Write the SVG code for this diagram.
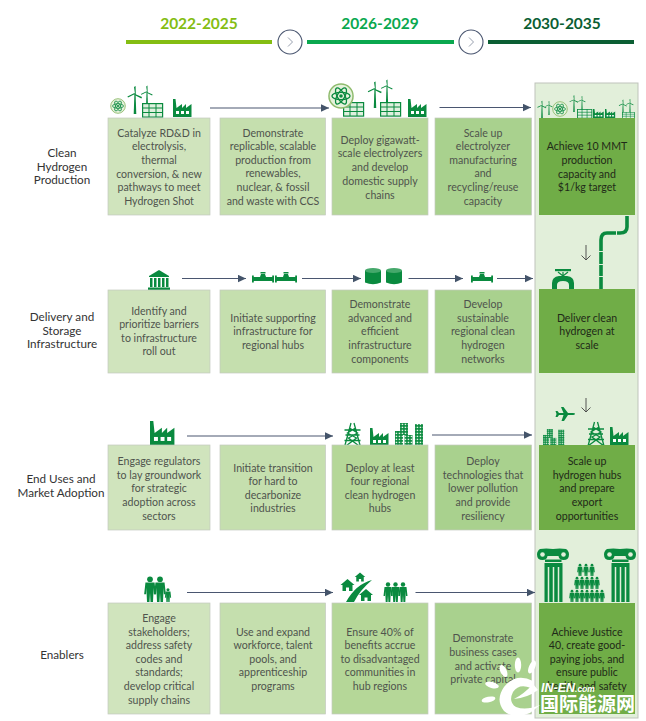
<svg xmlns="http://www.w3.org/2000/svg" xmlns:xlink="http://www.w3.org/1999/xlink" width="646" height="721" viewBox="0 0 646 721">
<style>
text{font-family:"Lato","Liberation Sans",sans-serif;font-size:10.6px;fill:#4f544d;text-anchor:middle}
.lab{fill:#333;font-size:11.700px}
.dk{fill:#1f2a18}
.yr{font-size:15.5px;font-weight:700}
.c1{fill:#d0e4bd}.c2{fill:#c5dfae}.c3{fill:#b5d798}.c4{fill:#a9d18e}.c5{fill:#70ad47}
.bx{stroke:#c4c9bf;stroke-width:.7}
.conn{stroke:#4a5670;stroke-width:1.1;fill:none;marker-end:url(#tri)}
.g{fill:#0a8a3f}
.ln{fill:none;stroke:#0a8a3f}
.w{fill:#fff}
</style>
<defs>
<marker id="tri" markerUnits="userSpaceOnUse" markerWidth="8" markerHeight="8" refX="8" refY="4" orient="auto"><path d="M0 0.3L8 4L0 7.7Z" fill="#44546a"/></marker>
<pattern id="win" width="3" height="3" patternUnits="userSpaceOnUse"><rect width="3" height="3" fill="#0a8a3f"/><rect x=".7" y=".7" width="1.5" height="1.4" fill="#e6f3e6"/></pattern>
<g id="turb"><path class="g" d="M-1.3 0L-.6-20H.6L1.3 0Z"/><path class="g" d="M0-20L-1-27L.6-28L.8-20ZM0-20L7-17L6.4-15.6L-.5-19ZM0-20L-7-16.5L-7.6-17.6L-.5-21Z"/></g>
<g id="solar"><rect x=".6" y=".6" width="20" height="13.5" fill="#dff0df" stroke="#0a8a3f" stroke-width="1.2"/><path class="ln" stroke-width="1" d="M0 5H21M0 9.5H21M7 0V14M14 0V14"/></g>
<g id="fact"><path class="g" d="M0 18V0H2.5L3.5 9L9 5V9L13 5V9L18.500 5V18Z"/><rect class="w" x="3" y="12" width="3" height="3"/><rect class="w" x="8" y="12" width="3" height="3"/><rect class="w" x="13" y="12" width="3" height="3"/></g>
<g id="atom"><circle r="7.300" fill="#e6f2dc" stroke="#8fbb6d" stroke-width=".9"/><g class="ln" stroke-width=".8"><ellipse rx="5.500" ry="2.200"/><ellipse rx="5.500" ry="2.200" transform="rotate(60)"/><ellipse rx="5.500" ry="2.200" transform="rotate(120)"/></g><circle r="1.100" class="g"/></g>
<g id="valve"><rect class="g" x="0" y="-3.500" width="1.800" height="7"/><rect class="g" x="20.200" y="-3.500" width="1.800" height="7"/><rect class="g" x="1" y="-2" width="20" height="4"/><path class="g" d="M8-2L9-5H13L14-2Z"/><rect class="g" x="8.500" y="-7" width="5" height="1.500"/></g>
<g id="tank"><path class="g" d="M0 2.500V14.500Q8 18 16 14.500V2.500Z"/><ellipse cx="8" cy="2.500" rx="8" ry="2.500" fill="#45a86b"/></g>
<g id="tower"><path class="ln" stroke-width="1.300" d="M-1.500 0L-8 24M1.500 0L8 24M-8 24L4 15L-5 10L3 5M8 24L-4 15L5 10L-3 5M-8 7H8M-7 12H7M-8 17.500H8"/></g>
<g id="bldgs"><rect x="0" y="8" width="8" height="14" fill="url(#win)"/><rect x="5" y="0" width="8" height="12" fill="url(#win)"/><rect x="9.500" y="12" width="8" height="10" fill="url(#win)"/><rect x="20" y="1" width="8" height="21" fill="url(#win)"/></g>
<g id="p"><circle cy="-17.500" r="2.200" class="g"/><path class="g" d="M-3.500-15H3.500L4.500-6H3L2.800-11L2.300 0H.4L0-7L-.4 0H-2.300L-2.800-11L-3-6H-4.500Z"/></g>
<g id="col"><path class="g" d="M2 1Q8 0 15 1Q22 0 28 1Q31 3 31 6.500Q31 12 25.500 12Q21 12 20.500 8H9.500Q9 12 4.500 12Q-1 12 -1 6.500Q-1 3 2 1Z"/><circle cx="4.500" cy="6.500" r="2.300" fill="#e2efda"/><circle cx="25.500" cy="6.500" r="2.300" fill="#e2efda"/><rect class="g" x="7" y="11.500" width="16.500" height="2.500"/><rect class="g" x="6.500" y="15" width="18" height="39"/><path d="M10.500 19V54M15.500 19V54M20.500 19V54" stroke="#e2efda" stroke-width="1.500"/></g>
<g id="house"><path class="g" d="M-7 0L0-6L7 0H5V6H1.500V2.500H-1.500V6H-5V0Z"/></g>
</defs>

<g id="panel"><rect x="535" y="83" width="103" height="635" fill="#e2efda" stroke="#bfc4bb" stroke-width="1"/></g>

<g id="timeline">
<rect x="126" y="40" width="146" height="4" fill="#84bd12"/>
<rect x="307" y="40" width="147" height="4" fill="#0aa84f"/>
<rect x="488" y="40" width="146" height="4" fill="#0b5e33"/>
<g fill="#fff" stroke="#4a5670" stroke-width="1.100"><circle cx="290" cy="42" r="12"/><circle cx="471" cy="42" r="12"/></g>
<path d="M288 37.500L292.500 42L288 46.500M469 37.500L473.500 42L469 46.500" fill="none" stroke="#8a93a3" stroke-width=".9"/>
<text class="yr" x="199" y="29" style="fill:#84bd12">2022-2025</text>
<text class="yr" x="380" y="29" style="fill:#0aa84f">2026-2029</text>
<text class="yr" x="562" y="29" style="fill:#0b5e33">2030-2035</text>
</g>

<g id="row-labels">
<text class="lab" x="62" y="157">Clean</text><text class="lab" x="62" y="170.500">Hydrogen</text><text class="lab" x="62" y="184">Production</text>
<text class="lab" x="62" y="321">Delivery and</text><text class="lab" x="62" y="334.500">Storage</text><text class="lab" x="62" y="348">Infrastructure</text>
<text class="lab" x="61" y="483">End Uses and</text><text class="lab" x="61" y="497">Market Adoption</text>
<text class="lab" x="62" y="659">Enablers</text>
</g>

<g id="connectors">
<path class="conn" d="M210 108H329"/><path class="conn" d="M439.500 107.500H531"/>
<path class="conn" d="M182 278.500H246"/><path class="conn" d="M302 278.500H361"/><path class="conn" d="M408.500 278.500H463"/><path class="conn" d="M497 278.500H533"/>
<path class="conn" d="M187 436H333"/><path class="conn" d="M432 435H532"/>
<path class="conn" d="M187 592.500H333"/><path class="conn" d="M415.500 592.500H535"/>
<path d="M586 245V260M581.500 255.500L586 260L590.500 255.500M586 398V412M581.500 407.500L586 412L590.500 407.500" fill="none" stroke="#444" stroke-width=".9"/>
</g>

<g id="icons-row1">
<use href="#atom" transform="translate(118 106)"/>
<use href="#turb" transform="translate(135 114)"/><use href="#turb" transform="translate(147 108) scale(.8)"/>
<use href="#solar" transform="translate(142 103)"/>
<use href="#fact" transform="translate(173 99)"/>
<use href="#solar" transform="translate(343 102)"/>
<use href="#atom" transform="translate(341 96) scale(1.650)"/>
<use href="#turb" transform="translate(375 108) scale(.95)"/><use href="#turb" transform="translate(387 102) scale(.8)"/>
<use href="#solar" transform="translate(380 102)"/>
<use href="#fact" transform="translate(408 99)"/>
<use href="#turb" transform="translate(542 118) scale(.62)"/><use href="#turb" transform="translate(549 115) scale(.5)"/>
<use href="#atom" transform="translate(560 109)"/>
<use href="#turb" transform="translate(574 112) scale(.6)"/><use href="#turb" transform="translate(582 110) scale(.5)"/>
<use href="#solar" transform="translate(577 109) scale(.72 .65)"/>
<use href="#fact" transform="translate(593 109) scale(.58 .5)"/><use href="#fact" transform="translate(605 109) scale(.55 .5)"/>
<use href="#turb" transform="translate(623 115) scale(.55)"/><use href="#turb" transform="translate(630 113) scale(.5)"/>
<use href="#solar" transform="translate(622 112) scale(.6 .45)"/>
</g>

<g id="icons-row2">
<g id="bank" class="g"><path d="M149 276L159 270L169 276V277H149Z"/><rect x="150" y="278" width="2.500" height="9"/><rect x="154" y="278" width="2.500" height="9"/><rect x="158" y="278" width="2.500" height="9"/><rect x="162" y="278" width="2.500" height="9"/><rect x="166" y="278" width="2.500" height="9"/><rect x="148" y="287.500" width="22" height="2.500"/></g>
<use href="#valve" transform="translate(252 279)"/><use href="#valve" transform="translate(275 279)"/>
<use href="#tank" transform="translate(365 268)"/><use href="#tank" transform="translate(386 268)"/>
<use href="#valve" transform="translate(471 279)"/>
<g id="pipe"><path d="M627 216V227Q627 233 620 233H607Q601 233 601 240" fill="none" stroke="#0a8a3f" stroke-width="3.600"/><rect class="g" x="599.200" y="240" width="3.600" height="49.500"/><rect x="616" y="231" width="1" height="4" fill="#e2efda"/><rect x="599" y="251" width="4" height="1" fill="#e2efda"/><rect x="599" y="264" width="4" height="1" fill="#e2efda"/><rect x="599" y="276" width="4" height="1" fill="#e2efda"/></g>
<g id="panel-valve"><path d="M552 289V283Q552 277 559 276H567Q574 277 574 283V289H569V285Q569 281 563 281Q557 281 557 285V289Z" class="g"/><rect class="g" x="555" y="269" width="16" height="2.200"/><path d="M558 272L563 276L568 272M563 272V278" stroke="#0a8a3f" stroke-width="1.200" fill="none"/></g>
</g>

<g id="icons-row3">
<use href="#fact" transform="translate(150 421) scale(1.320 1.330)"/>
<use href="#tower" transform="translate(352.500 423)"/>
<use href="#fact" transform="translate(370 428)"/>
<use href="#bldgs" transform="translate(395 423)"/>
<path class="g" d="M575 413.500Q575 415 573 415L568 415L564 421H561.500L563.500 415H559L557.500 417H555.500L556.500 414L555.500 411H557.500L559 413H563.500L561 407H563.500L568 413H573Q575 413 575 413.500Z"/>
<use href="#bldgs" transform="translate(543 429) scale(.76 .74)"/>
<use href="#tower" transform="translate(596 422)"/>
<use href="#fact" transform="translate(610 427)"/>
</g>

<g id="icons-row4">
<use href="#p" transform="translate(150 602) scale(1.300)"/><use href="#p" transform="translate(160 602) scale(1.300)"/><use href="#p" transform="translate(168 602) scale(.7)"/>
<path class="g" d="M346 602Q356 584 372 580Q360 590 354 602Z"/>
<use href="#house" transform="translate(347.500 585)"/><use href="#house" transform="translate(360 577) scale(.75)"/><use href="#house" transform="translate(366 595)"/>
<use href="#p" transform="translate(388 602)"/><use href="#p" transform="translate(395.500 602)"/><use href="#p" transform="translate(403 602)"/>
<use href="#col" transform="translate(538 548)"/><use href="#col" transform="translate(605 548)"/>
<use href="#p" transform="translate(580 576) scale(.62)"/><use href="#p" transform="translate(586 576) scale(.62)"/><use href="#p" transform="translate(592 576) scale(.62)"/>
<use href="#p" transform="translate(577 589) scale(.62)"/><use href="#p" transform="translate(582 589) scale(.62)"/><use href="#p" transform="translate(587 589) scale(.62)"/><use href="#p" transform="translate(592 589) scale(.62)"/><use href="#p" transform="translate(597 589) scale(.62)"/>
<use href="#p" transform="translate(572 602) scale(.62)"/><use href="#p" transform="translate(577 602) scale(.62)"/><use href="#p" transform="translate(582 602) scale(.62)"/><use href="#p" transform="translate(587 602) scale(.62)"/><use href="#p" transform="translate(592 602) scale(.62)"/><use href="#p" transform="translate(597 602) scale(.62)"/><use href="#p" transform="translate(602 602) scale(.62)"/>
</g>

<g id="n-r1c1"><rect class="bx c1" x="108" y="118" width="102" height="97"/><text x="159" y="136.500">Catalyze RD&amp;D in</text><text x="159" y="150">electrolysis,</text><text x="159" y="163.500">thermal</text><text x="159" y="177.500">conversion, &amp; new</text><text x="159" y="191">pathways to meet</text><text x="159" y="204.500">Hydrogen Shot</text></g>
<g id="n-r1c2"><rect class="bx c2" x="220" y="118" width="105.500" height="97"/><text x="273" y="136.500">Demonstrate</text><text x="273" y="150">replicable, scalable</text><text x="273" y="163.500">production from</text><text x="273" y="177">renewables,</text><text x="273" y="191">nuclear, &amp; fossil</text><text x="273" y="204.500">and waste with CCS</text></g>
<g id="n-r1c3"><rect class="bx c3" x="332" y="118" width="96" height="97"/><text x="380" y="143.500">Deploy gigawatt-</text><text x="380" y="157">scale electrolyzers</text><text x="380" y="170.500">and develop</text><text x="380" y="184.500">domestic supply</text><text x="380" y="198.500">chains</text></g>
<g id="n-r1c4"><rect class="bx c4" x="435" y="118" width="96.500" height="97"/><text x="483" y="136.500">Scale up</text><text x="483" y="150">electrolyzer</text><text x="483" y="163.500">manufacturing</text><text x="483" y="177">and</text><text x="483" y="191">recycling/reuse</text><text x="483" y="204.500">capacity</text></g>
<g id="n-r1c5"><rect class="c5" x="539" y="118" width="96" height="97"/><text class="dk" x="587" y="150">Achieve 10 MMT</text><text class="dk" x="587" y="163.500">production</text><text class="dk" x="587" y="177.500">capacity and</text><text class="dk" x="587" y="191">$1/kg target</text></g>

<g id="n-r2c1"><rect class="bx c1" x="108" y="290" width="102" height="83"/><text x="159" y="314.500">Identify and</text><text x="159" y="328">prioritize barriers</text><text x="159" y="341.500">to infrastructure</text><text x="159" y="355">roll out</text></g>
<g id="n-r2c2"><rect class="bx c2" x="220" y="290" width="105.500" height="83"/><text x="273" y="321.500">Initiate supporting</text><text x="273" y="335">infrastructure for</text><text x="273" y="348.500">regional hubs</text></g>
<g id="n-r2c3"><rect class="bx c3" x="332" y="290" width="96" height="83"/><text x="380" y="307.500">Demonstrate</text><text x="380" y="321.500">advanced and</text><text x="380" y="335">efficient</text><text x="380" y="348.500">infrastructure</text><text x="380" y="362.500">components</text></g>
<g id="n-r2c4"><rect class="bx c4" x="435" y="290" width="96.500" height="83"/><text x="483" y="307.500">Develop</text><text x="483" y="321.500">sustainable</text><text x="483" y="335">regional clean</text><text x="483" y="348.500">hydrogen</text><text x="483" y="362.500">networks</text></g>
<g id="n-r2c5"><rect class="c5" x="539" y="289" width="96" height="84"/><text class="dk" x="587" y="321.500">Deliver clean</text><text class="dk" x="587" y="335">hydrogen at</text><text class="dk" x="587" y="348.500">scale</text></g>

<g id="n-r3c1"><rect class="bx c1" x="108" y="445" width="102" height="85"/><text x="159" y="464.500">Engage regulators</text><text x="159" y="478.500">to lay groundwork</text><text x="159" y="491.500">for strategic</text><text x="159" y="505.500">adoption across</text><text x="159" y="519.500">sectors</text></g>
<g id="n-r3c2"><rect class="bx c2" x="220" y="445" width="105.500" height="85"/><text x="273" y="471.500">Initiate transition</text><text x="273" y="484.500">for hard to</text><text x="273" y="498.500">decarbonize</text><text x="273" y="511.500">industries</text></g>
<g id="n-r3c3"><rect class="bx c3" x="332" y="445" width="96" height="85"/><text x="380" y="471.500">Deploy at least</text><text x="380" y="484.500">four regional</text><text x="380" y="498.500">clean hydrogen</text><text x="380" y="511.500">hubs</text></g>
<g id="n-r3c4"><rect class="bx c4" x="435" y="445" width="96.500" height="85"/><text x="483" y="464.500">Deploy</text><text x="483" y="478.500">technologies that</text><text x="483" y="491.500">lower pollution</text><text x="483" y="505.500">and provide</text><text x="483" y="519.500">resiliency</text></g>
<g id="n-r3c5"><rect class="c5" x="539" y="445" width="96" height="85"/><text class="dk" x="587" y="464.500">Scale up</text><text class="dk" x="587" y="478.500">hydrogen hubs</text><text class="dk" x="587" y="491.500">and prepare</text><text class="dk" x="587" y="505.500">export</text><text class="dk" x="587" y="519.500">opportunities</text></g>

<g id="n-r4c1"><rect class="bx c1" x="108" y="603" width="102" height="111"/><text x="159" y="621.500">Engage</text><text x="159" y="635.500">stakeholders;</text><text x="159" y="648.500">address safety</text><text x="159" y="662.500">codes and</text><text x="159" y="675.500">standards;</text><text x="159" y="689.500">develop critical</text><text x="159" y="703.500">supply chains</text></g>
<g id="n-r4c2"><rect class="bx c2" x="220" y="603" width="105.500" height="111"/><text x="273" y="635.500">Use and expand</text><text x="273" y="648.500">workforce, talent</text><text x="273" y="662.500">pools, and</text><text x="273" y="675.500">apprenticeship</text><text x="273" y="689.500">programs</text></g>
<g id="n-r4c3"><rect class="bx c3" x="332" y="603" width="96" height="111"/><text x="380" y="635.500">Ensure 40% of</text><text x="380" y="648.500">benefits accrue</text><text x="380" y="662.500">to disadvantaged</text><text x="380" y="675.500">communities in</text><text x="380" y="689.500">hub regions</text></g>
<g id="n-r4c4"><rect class="bx c4" x="435" y="603" width="96.500" height="111"/><text x="483" y="641.500">Demonstrate</text><text x="483" y="655.500">business cases</text><text x="483" y="669.500">and activate</text><text x="483" y="682.500">private capital</text></g>
<g id="n-r4c5"><rect class="c5" x="539" y="603" width="96" height="111"/><text class="dk" x="587" y="635.500">Achieve Justice</text><text class="dk" x="587" y="648.500">40, create good-</text><text class="dk" x="587" y="662.500">paying jobs, and</text><text class="dk" x="587" y="675.500">ensure public</text><text class="dk" x="587" y="689.500">health and safety</text></g>

<g id="watermark">
<ellipse cx="518" cy="665" rx="3.200" ry="7.500" fill="#fff"/>
<ellipse cx="503.500" cy="671" rx="3.200" ry="6.500" transform="rotate(-25 503.500 671)" fill="#fff"/>
<ellipse cx="492" cy="685" rx="7" ry="3" transform="rotate(15 492 685)" fill="#fff"/>
<ellipse cx="488.500" cy="699.500" rx="7" ry="2.800" transform="rotate(-12 488.500 699.500)" fill="#fff"/>
<ellipse cx="532" cy="667" rx="3" ry="7" transform="rotate(25 532 667)" fill="#fff"/>
<path d="M533 681Q516 672 504 687Q495 700 504 711Q514 720 530 713L540 705Q526 711 516 707Q508 702 513 692Q519 683 531 688Z M514 699Q527 698 538 690L533 684Q524 694 514 699Z" fill="#fff"/>
<text x="541" y="692" style="font-family:'Liberation Sans',sans-serif;font-size:12.500px;font-weight:700;font-style:italic;fill:#fff;text-anchor:start">IN-EN<tspan style="font-size:8.500px">.com</tspan></text>
<text x="540" y="711" style="font-family:'Noto Sans CJK SC',sans-serif;font-size:19px;font-weight:700;fill:#fff;text-anchor:start">国际能源网</text>
</g>
</svg>
